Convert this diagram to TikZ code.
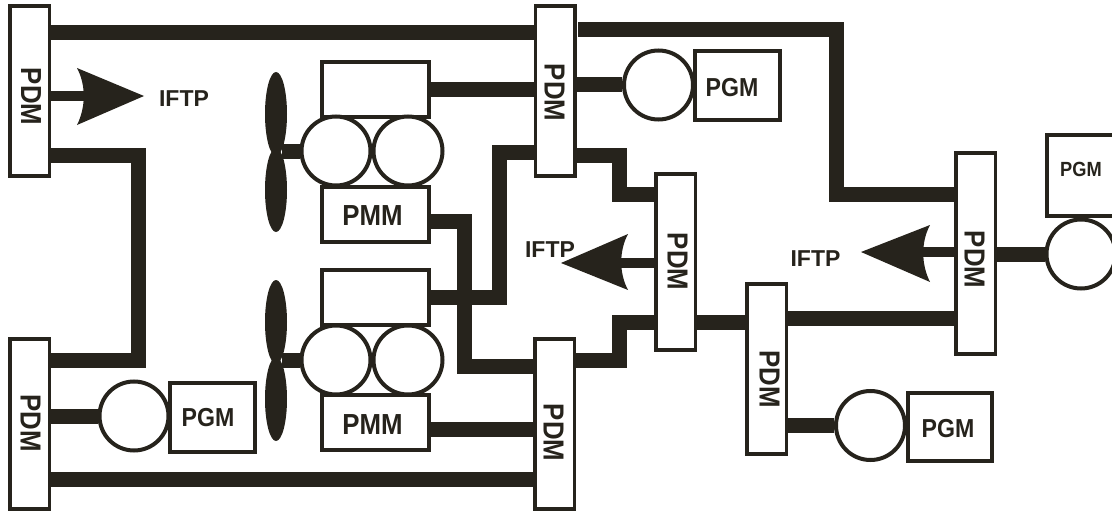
\documentclass[tikz,border=0pt]{standalone}
\usepackage{fontspec}
\setmainfont{Liberation Sans}
\newfontfamily\narrowsans[FakeStretch=0.89]{Liberation Sans}
\usetikzlibrary{shapes.geometric}
\definecolor{inkdark}{HTML}{26231C}
\tikzset{
    unitbox/.style={draw=inkdark,fill=white,line width=4,inner sep=0},
    pdmbox/.style={unitbox,line width=3.5,minimum width=39.5},
    gencircle/.style={circle,draw=inkdark,fill=white,line width=4,inner sep=0,minimum size=69},
    blade/.style={ellipse,fill=inkdark,inner sep=0,minimum width=22,minimum height=84},
    wire/.style={draw=inkdark,line width=15},
    feedwire/.style={draw=inkdark,line width=10},
    pdmlabel/.style={rotate=-90,inner sep=0,text=inkdark,font=\narrowsans\bfseries\fontsize{29}{29}\selectfont},
    boxlabel/.style={inner sep=0,text=inkdark,font=\narrowsans\bfseries\fontsize{29}{29}\selectfont},
    pgmlabel/.style={inner sep=0,text=inkdark,font=\narrowsans\bfseries\fontsize{26}{26}\selectfont},
    iftplabel/.style={inner sep=0,text=inkdark,font=\bfseries\fontsize{23}{23}\selectfont},
}

\begin{document}
\begin{tikzpicture}[x=1pt,y=-1pt]
    \useasboundingbox (0,0) rectangle (1112,511);
    % distribution modules
    \node[pdmbox,minimum height=170] (pdmtl) at (29.5,91) {};
    \node[pdmbox,minimum height=170] (pdmbl) at (29.5,424) {};
    \node[pdmbox,minimum height=170] (pdmtc) at (555,91) {};
    \node[pdmbox,minimum height=170] (pdmbc) at (554.5,424) {};
    \node[pdmbox,minimum height=176] (pdmmid) at (675.5,262) {};
    \node[pdmbox,minimum height=170] (pdmlow) at (766.5,369) {};
    \node[pdmbox,minimum height=201] (pdmright) at (975.5,253.5) {};
    \node[pdmlabel] (lbltl) at (31,96.5) {PDM};
    \node[pdmlabel] (lblbl) at (30.5,423) {PDM};
    \node[pdmlabel] (lbltc) at (554.5,92.5) {PDM};
    \node[pdmlabel] (lblbc) at (553.5,432.5) {PDM};
    \node[pdmlabel] (lblmid) at (677.5,261.5) {PDM};
    \node[pdmlabel] (lbllow) at (769.5,379) {PDM};
    \node[pdmlabel] (lblright) at (974.5,259.5) {PDM};
    % motors and propellers
    \node[unitbox,minimum width=107,minimum height=55] (recta) at (375.5,89.5) {};
    \node[unitbox,minimum width=107,minimum height=55] (pmma) at (375.5,214.5) {};
    \node[unitbox,minimum width=107,minimum height=55] (rectb) at (375.5,297.5) {};
    \node[unitbox,minimum width=107,minimum height=55] (pmmb) at (375.5,422.5) {};
    \node[boxlabel] (lblpmma) at (372.5,215.5) {PMM};
    \node[boxlabel] (lblpmmb) at (372.5,425) {PMM};
    \node[gencircle] (mota) at (336,151) {};
    \node[gencircle] (motb) at (408,151) {};
    \node[gencircle] (motc) at (336,360) {};
    \node[gencircle] (motd) at (408,360) {};
    \node[blade] (bladea) at (276,114) {};
    \node[blade] (bladeb) at (276,190) {};
    \node[blade] (bladec) at (276,322) {};
    \node[blade] (blader) at (276,399) {};
    % generators
    \node[gencircle] (gena) at (134,416) {};
    \node[unitbox,minimum width=85,minimum height=69] (pgma) at (212.5,417.5) {};
    \node[pgmlabel] (lblpgma) at (208,418) {PGM};
    \node[gencircle] (genb) at (658.5,85) {};
    \node[unitbox,minimum width=85,minimum height=69] (pgmb) at (737.5,85.5) {};
    \node[pgmlabel] (lblpgmb) at (732,88) {PGM};
    \node[gencircle] (genc) at (870.5,425.5) {};
    \node[unitbox,minimum width=84,minimum height=68] (pgmc) at (950,427) {};
    \node[pgmlabel] (lblpgmc) at (948,429) {PGM};
    \node[gencircle] (gend) at (1081,254) {};
    \node[unitbox,minimum width=85,minimum height=81] (pgmd) at (1089.5,175.5) {};
    \node[inner sep=0,text=inkdark,font=\narrowsans\bfseries\fontsize{20.5}{20.5}\selectfont] (lblpgmd) at (1081,169) {PGM};
    % ring connections
    \coordinate (busstart) at (578,30);
    \draw[wire] (pdmtl.east |- 0,33) -- (pdmtc.west |- 0,33);
    \draw[wire] (busstart) -- (836,30) -- (836,194) -- (pdmright.west |- 0,194);
    \draw[wire] (pdmtl.east |- 0,155.5) -- (138,155.5) -- (138,360) -- (pdmbl.east |- 0,360);
    \draw[wire] (pdmbl.east |- 0,479) -- (pdmbc.west |- 0,479);
    \draw[wire] (recta.east |- 0,89.5) -- (pdmtc.west |- 0,89.5);
    \draw[wire] (pdmtc.west |- 0,152) -- (499.5,152) -- (499.5,297.5) -- (rectb.east |- 0,297.5);
    \draw[wire] (pmma.east |- 0,221) -- (464,221) -- (464,366) -- (pdmbc.west |- 0,366);
    \draw[wire] (pmmb.east |- 0,429.5) -- (pdmbc.west |- 0,429.5);
    \draw[wire] (pdmtc.east |- 0,155.5) -- (619.5,155.5) -- (619.5,194) -- (pdmmid.west |- 0,194);
    \draw[wire] (pdmbc.east |- 0,360) -- (619.5,360) -- (619.5,322) -- (pdmmid.west |- 0,322);
    \draw[wire] (pdmmid.east |- 0,322) -- (pdmlow.west |- 0,322);
    \draw[wire] (pdmlow.east |- 0,318.5) -- (pdmright.west |- 0,318.5);
    % generator and shaft connections
    \coordinate (shafta) at (282,151);
    \coordinate (shaftb) at (282,360);
    \draw[wire] (pdmbl.east |- gena.west) -- (gena.west);
    \draw[wire] (pdmtc.east |- genb.west) -- (genb.west);
    \draw[wire] (pdmlow.east |- genc.west) -- (genc.west);
    \draw[wire] (pdmright.east |- gend.west) -- (gend.west);
    \draw[wire] (shafta) -- (mota.west);
    \draw[wire] (shaftb) -- (motc.west);
    % thrust arrows
    \coordinate (notcha) at (84,96);
    \coordinate (notchb) at (621,263);
    \coordinate (notchc) at (923,252);
    \draw[feedwire] (pdmtl.east |- notcha) -- (notcha);
    \draw[feedwire] (pdmmid.west |- notchb) -- (notchb);
    \draw[feedwire] (pdmright.west |- notchc) -- (notchc);
    \fill[inkdark] (144,96) -- (77,68) .. controls (86,85) and (86,107) .. (77,125) -- cycle;
    \fill[inkdark] (561,263) -- (628,234) .. controls (619,251) and (619,273) .. (628,290) -- cycle;
    \fill[inkdark] (861,252) -- (930,225) .. controls (921,242) and (921,264) .. (930,282) -- cycle;
    \node[iftplabel] (iftpa) at (184,99) {IFTP};
    \node[iftplabel] (iftpb) at (550,250) {IFTP};
    \node[iftplabel] (iftpc) at (815.5,259) {IFTP};
\end{tikzpicture}
\end{document}
